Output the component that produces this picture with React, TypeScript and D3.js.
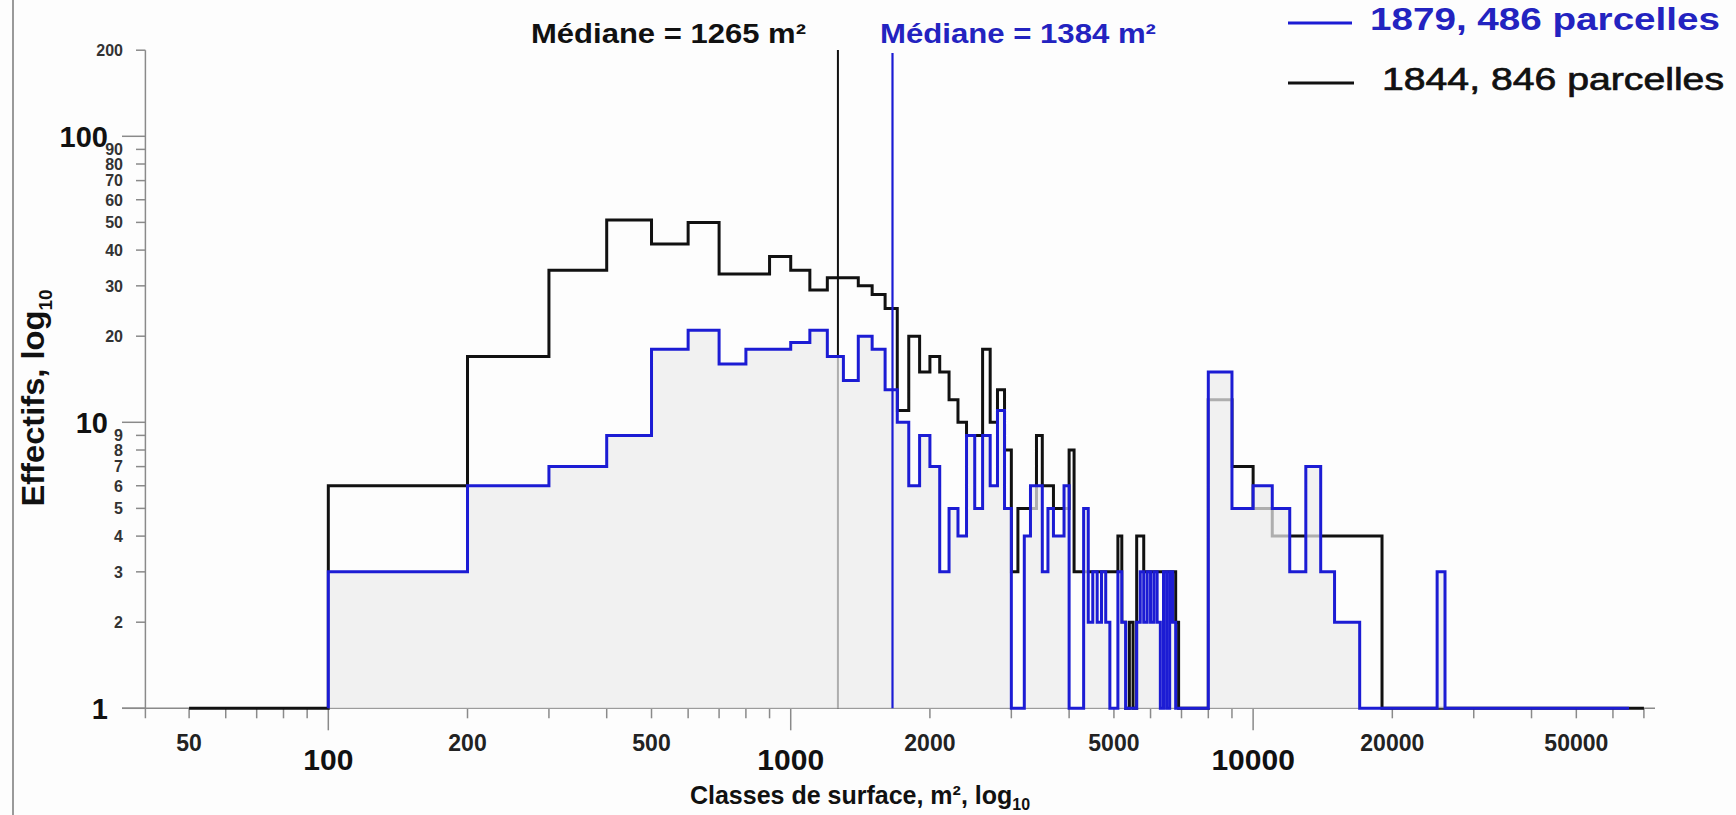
import React from "react";
import * as d3 from "d3";

// ---------- DATA ----------
// Bin edges of the surface classes (m²)
const binEdges = [
  50, 100, 200, 300, 400, 500, 600, 700, 800, 900,
  1000, 1100, 1200, 1300, 1400, 1500, 1600, 1700, 1800, 1900,
  2000, 2100, 2200, 2300, 2400, 2500, 2600, 2700, 2800, 2900,
  3000, 3100, 3200, 3300, 3400, 3500, 3600, 3700, 3800, 3900,
  4000, 4100, 4200, 4300, 4400, 4500, 4600, 4700, 4800, 4900,
  5000, 5100, 5200, 5300, 5400, 5500, 5600, 5700, 5800, 5900,
  6000, 6100, 6200, 6300, 6400, 6500, 6600, 6700, 6800, 6900,
  7000, 8000, 9000, 10000, 11000, 12000, 13000, 14000, 15000, 16000,
  17000, 18000, 19000, 20000, 25000, 26000, 65000, 70000,
];

// 1844 counts per bin (black)
const counts1844 = [
  1, 6, 17, 34, 51, 42, 50, 33, 33, 38,
  34, 29, 32, 32, 30, 28, 25, 11, 20, 15,
  17, 15, 12, 10, 9, 9, 18, 10, 13, 8,
  3, 5, 5, 5, 9, 6, 6, 5, 5, 5,
  8, 3, 3, 3, 3, 3, 3, 3, 3, 3,
  3, 4, 2, 1, 2, 1, 4, 4, 3, 3,
  3, 3, 3, 3, 3, 3, 3, 3, 2, 1,
  1, 12, 7, 5, 4, 4, 4, 4, 4, 4,
  4, 4, 1, 1, 1, 1, 1,
];

// 1879 counts per bin (blue); null = no class
const counts1879 = [
  null, 3, 6, 7, 9, 18, 21, 16, 18, 18,
  19, 21, 17, 14, 20, 18, 13, 10, 6, 9,
  7, 3, 5, 4, 9, 5, 9, 6, 11, 5,
  1, 1, 4, 6, 6, 3, 5, 4, 4, 6,
  1, 1, 1, 5, 2, 3, 2, 3, 2, 1,
  1, 3, 2, 1, 1, 1, 2, 3, 2, 3,
  2, 3, 2, 1, 3, 1, 3, 2, 1, 1,
  1, 15, 5, 6, 5, 3, 7, 3, 2, 2,
  1, 1, 1, 1, 3, 1, null,
];

const medianLabels = ["Médiane = 1265 m²", "Médiane = 1384 m²"];
const medianDrawnAt = [1265, 1660];

const legendLabels = ["1879, 486 parcelles", "1844, 846 parcelles"];

const yTicks = [1, 2, 3, 4, 5, 6, 7, 8, 9, 10, 20, 30, 40, 50, 60, 70, 80, 90, 100, 200];
const yMajor = [1, 10, 100];
const xTicks = [
  50, 60, 70, 80, 90, 100, 200, 300, 400, 500, 600, 700, 800, 900,
  1000, 2000, 3000, 4000, 5000, 6000, 7000, 8000, 9000,
  10000, 20000, 30000, 40000, 50000, 60000, 70000,
];
const xLabels = [50, 100, 200, 500, 1000, 2000, 5000, 10000, 20000, 50000];
const xMajor = [100, 1000, 10000];

// ---------- STYLE ----------
const BLACK = "#111111";
const BLUE = "#1c1cd4";
const BLUE_TEXT = "#2323c0";
const AXIS = "#8a8a8a";
const FONT = "'Liberation Sans', Arial, sans-serif";

export default function App() {
  const W = 1736;
  const H = 815;

  const x = d3.scaleLog().domain([40, 70000]).range([144.3, 1643.9]);
  const y = d3.scaleLog().domain([1, 200]).range([708.3, 50.2]);

  const stepLine = d3
    .line<[number, number]>()
    .x((d) => x(d[0]))
    .y((d) => y(d[1]))
    .curve(d3.curveStepAfter);

  const stepArea = d3
    .area<[number, number]>()
    .x((d) => x(d[0]))
    .y0(y(1))
    .y1((d) => y(d[1]))
    .curve(d3.curveStepAfter);

  const toPoints = (counts: (number | null)[]) => {
    const pts: [number, number][] = [];
    let last: number | null = null;
    let lastEdge = 0;
    counts.forEach((c, i) => {
      if (c === null) return;
      if (pts.length === 0 && c > 1) pts.push([binEdges[i], 1]);
      pts.push([binEdges[i], c]);
      last = c;
      lastEdge = binEdges[i + 1];
    });
    if (last !== null) pts.push([lastEdge, last]);
    return pts;
  };

  const blackPts = toPoints(counts1844);
  const bluePts = toPoints(counts1879);

  const axisX = 145.4;
  const base = y(1);

  return (
    <svg
      width={W}
      height={H}
      style={{ position: "absolute", left: 0, top: 0, background: "#fdfdfd" }}
      fontFamily={FONT}
    >
      <rect x={0} y={0} width={W} height={H} fill="#fdfdfd" />
      {/* left frame */}
      <line x1={13} x2={13} y1={0} y2={H} stroke="#9a9a9a" strokeWidth={2} />

      {/* axes */}
      <line x1={122} x2={1655} y1={base} y2={base} stroke={AXIS} strokeWidth={1.5} />
      <line x1={axisX} x2={axisX} y1={y(200)} y2={base + 10} stroke={AXIS} strokeWidth={1.5} />

      {yTicks.map((t) => {
        const major = yMajor.includes(t);
        return (
          <g key={"yt" + t}>
            <line
              x1={major ? 122 : 136}
              x2={axisX}
              y1={y(t)}
              y2={y(t)}
              stroke={AXIS}
              strokeWidth={1.5}
            />
            {major ? (
              <text
                x={108}
                y={y(t)}
                dy="0.36em"
                textAnchor="end"
                fontSize={29}
                fontWeight="bold"
                fill="#111"
              >
                {t}
              </text>
            ) : (
              <text
                x={123}
                y={y(t)}
                dy="0.36em"
                textAnchor="end"
                fontSize={16}
                fontWeight="bold"
                fill="#333"
              >
                {t}
              </text>
            )}
          </g>
        );
      })}

      {xTicks.map((t) => {
        const major = xMajor.includes(t);
        return (
          <line
            key={"xt" + t}
            x1={x(t)}
            x2={x(t)}
            y1={base}
            y2={base + (major ? 22 : 10)}
            stroke={AXIS}
            strokeWidth={1.5}
          />
        );
      })}
      {xLabels.map((t) => {
        const major = xMajor.includes(t);
        return (
          <text
            key={"xl" + t}
            x={x(t)}
            y={major ? 770 : 751}
            textAnchor="middle"
            fontSize={major ? 30 : 23}
            fontWeight="bold"
            fill={major ? "#111" : "#222"}
          >
            {t}
          </text>
        );
      })}

      {/* axis titles */}
      <text x={860} y={804} textAnchor="middle" fontSize={25} fontWeight="bold" fill="#111">
        Classes de surface, m², log
        <tspan fontSize={16} dy={6}>10</tspan>
      </text>
      <text
        transform={`translate(44, 398) rotate(-90)`}
        textAnchor="middle"
        fontSize={31}
        fontWeight="bold"
        fill="#111"
      >
        <tspan textLength={196} lengthAdjust="spacingAndGlyphs">Effectifs, log</tspan>
        <tspan fontSize={19} dy={8}>10</tspan>
      </text>

      {/* black histogram (1844) */}
      <path d={stepLine(blackPts) || ""} fill="none" stroke={BLACK} strokeWidth={3} />
      {/* black median */}
      <line
        x1={x(medianDrawnAt[0])}
        x2={x(medianDrawnAt[0])}
        y1={50}
        y2={base}
        stroke={BLACK}
        strokeWidth={2}
      />

      {/* light fill under the 1879 distribution */}
      <path d={stepArea(bluePts) || ""} fill="#ececec" fillOpacity={0.72} stroke="none" />

      {/* blue histogram (1879) */}
      <path d={stepLine(bluePts) || ""} fill="none" stroke={BLUE} strokeWidth={3} />
      <line
        x1={x(medianDrawnAt[1])}
        x2={x(medianDrawnAt[1])}
        y1={53}
        y2={base}
        stroke={BLUE}
        strokeWidth={2.2}
      />

      {/* median labels */}
      <text x={531} y={43} fontSize={27} fontWeight="bold" fill="#111" textLength={275} lengthAdjust="spacingAndGlyphs">
        {medianLabels[0]}
      </text>
      <text x={880} y={43} fontSize={27} fontWeight="bold" fill={BLUE_TEXT} textLength={276} lengthAdjust="spacingAndGlyphs">
        {medianLabels[1]}
      </text>

      {/* legend */}
      <line x1={1288} x2={1352} y1={23} y2={23} stroke={BLUE} strokeWidth={3} />
      <text x={1370} y={30} fontSize={31} fontWeight="bold" fill={BLUE_TEXT} textLength={350} lengthAdjust="spacingAndGlyphs">
        {legendLabels[0]}
      </text>
      <line x1={1288} x2={1354} y1={83} y2={83} stroke={BLACK} strokeWidth={3} />
      <text
        x={1382}
        y={90}
        fontSize={31}
        fill="#111"
        stroke="#111"
        strokeWidth={0.7}
        textLength={342}
        lengthAdjust="spacingAndGlyphs"
      >
        {legendLabels[1]}
      </text>
    </svg>
  );
}
